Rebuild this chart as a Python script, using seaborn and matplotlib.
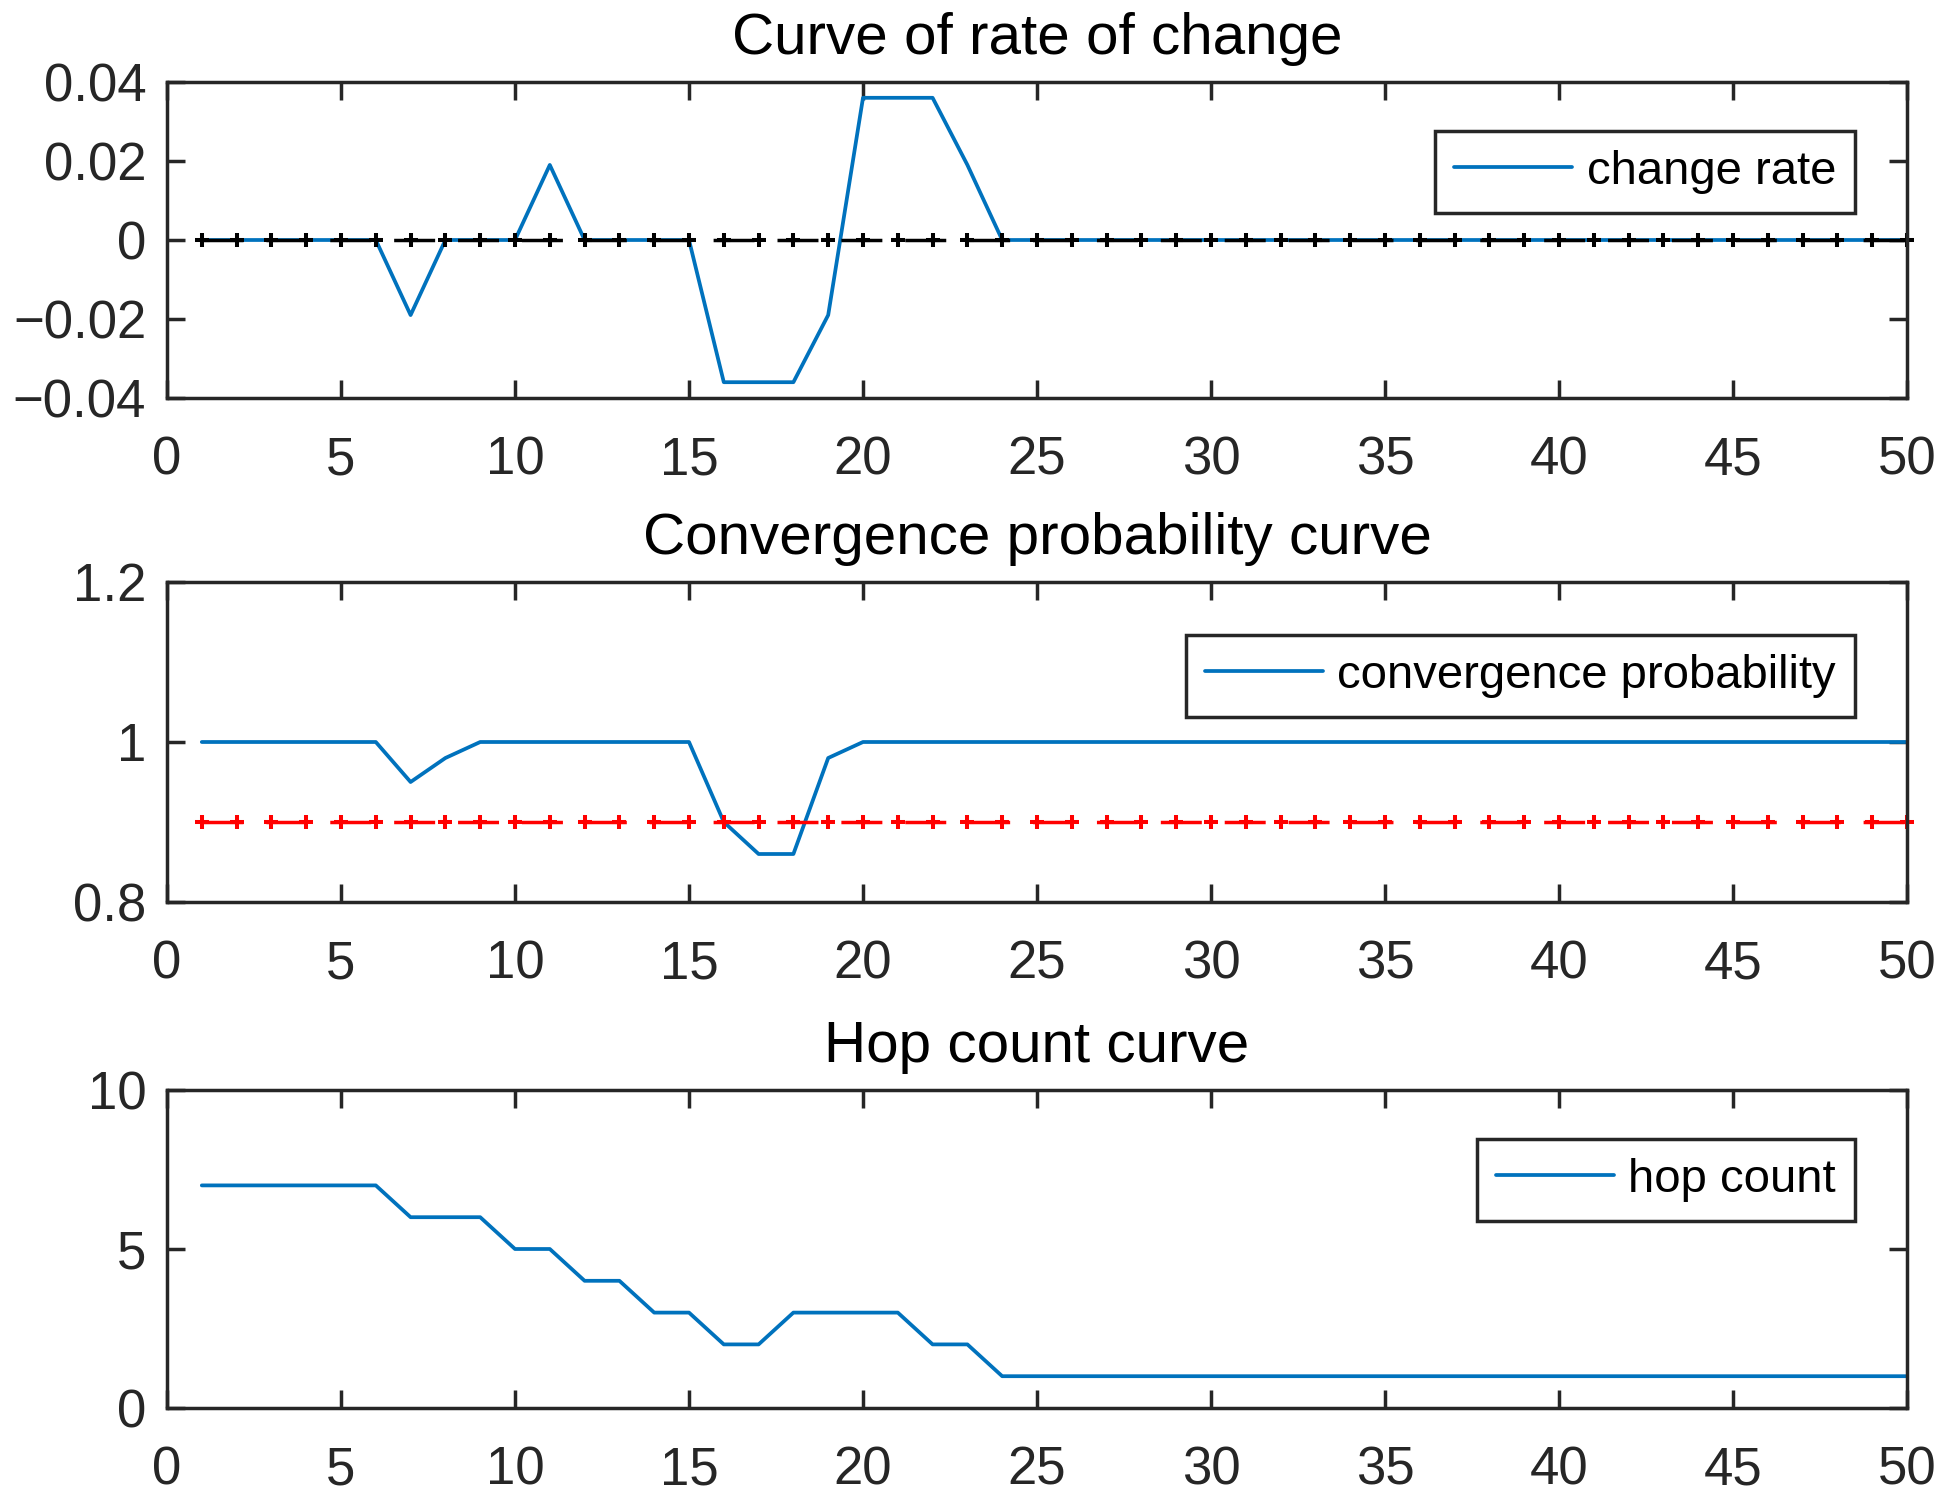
import numpy as np
import pandas as pd
import matplotlib
matplotlib.use("Agg")
import matplotlib.pyplot as plt
import seaborn as sns

# ---------------- data ----------------
iterations = list(range(1, 51))

change_rate = [0, 0, 0, 0, 0, 0, -0.019, 0, 0, 0,
               0.019, 0, 0, 0, 0, -0.036, -0.036, -0.036, -0.019, 0.036,
               0.036, 0.036, 0.019, 0] + [0] * 26

convergence_prob = [1, 1, 1, 1, 1, 1, 0.95, 0.98, 1, 1,
                    1, 1, 1, 1, 1, 0.90, 0.86, 0.86, 0.98, 1] + [1] * 30

hop_count = [7, 7, 7, 7, 7, 7, 6, 6, 6, 5,
             5, 4, 4, 3, 3, 2, 2, 3, 3, 3,
             3, 2, 2, 1] + [1] * 26

rate_reference = 0.0
prob_threshold = 0.9

titles = ["Curve of rate of change", "Convergence probability curve", "Hop count curve"]
legend_labels = ["change rate", "convergence probability", "hop count"]

x_ticks = list(range(0, 51, 5))
rate_yticks = [-0.04, -0.02, 0, 0.02, 0.04]
rate_yticklabels = ["\u22120.04", "\u22120.02", "0", "0.02", "0.04"]
prob_yticks = [0.8, 1.0, 1.2]
prob_yticklabels = ["0.8", "1", "1.2"]
hop_yticks = [0, 5, 10]
hop_yticklabels = ["0", "5", "10"]

# ---------------- style ----------------
sns.set_theme(style="white")
plt.rcParams["font.family"] = ["Liberation Sans", "DejaVu Sans"]
plt.rcParams["lines.scale_dashes"] = False
plt.rcParams["axes.unicode_minus"] = True

BLUE = "#0072BD"
AX_COL = "#262626"

W, H = 1942, 1492
fig = plt.figure(figsize=(W / 100, H / 100), dpi=100)
fig.patch.set_facecolor("white")

left_px, right_px = 167, 1907
axes_px = [(82, 398), (582, 902), (1090, 1408)]
legend_anchor_y = [0.845, 0.834, 0.846]

df = pd.DataFrame({"x": iterations, "rate": change_rate,
                   "prob": convergence_prob, "hop": hop_count})

series = ["rate", "prob", "hop"]
ylims = [(-0.04, 0.04), (0.8, 1.2), (0, 10)]
yticks = [rate_yticks, prob_yticks, hop_yticks]
yticklabels = [rate_yticklabels, prob_yticklabels, hop_yticklabels]

dash = (0, (29.5, 16.5))

for i, (top, bot) in enumerate(axes_px):
    ax = fig.add_axes([left_px / W, 1 - bot / H, (right_px - left_px) / W, (bot - top) / H])
    sns.lineplot(data=df, x="x", y=series[i], ax=ax, color=BLUE, lw=2.7,
                 label=legend_labels[i], legend=False)
    main_line = ax.get_lines()[-1]

    if i in (0, 1):
        ref_val = rate_reference if i == 0 else prob_threshold
        ref_col = "black" if i == 0 else "#FF0000"
        ref = pd.DataFrame({"x": iterations, "y": [ref_val] * len(iterations)})
        sns.lineplot(data=ref, x="x", y="y", ax=ax, color=ref_col, lw=2.5,
                     linestyle=dash, marker="+", markersize=9.5, mew=2.9,
                     mec=ref_col, clip_on=False, legend=False)

    ax.set_xlim(0, 50)
    ax.set_ylim(*ylims[i])
    ax.set_xticks(x_ticks)
    ax.set_xticklabels([str(t) for t in x_ticks])
    ax.set_yticks(yticks[i])
    ax.set_yticklabels(yticklabels[i])
    ax.set_xlabel("")
    ax.set_ylabel("")

    for s in ax.spines.values():
        s.set_visible(True)
        s.set_color(AX_COL)
        s.set_linewidth(2.5)
    ax.tick_params(axis="both", which="major", direction="in", length=13, width=2.5,
                   colors=AX_COL, labelsize=38, top=True, right=True,
                   bottom=True, left=True)
    ax.tick_params(axis="x", pad=27)
    ax.tick_params(axis="y", pad=15)
    for lab in ax.get_xticklabels() + ax.get_yticklabels():
        lab.set_color(AX_COL)

    ax.set_title(titles[i], fontsize=42, color="black", pad=20)

    leg = ax.legend(handles=[main_line], labels=[legend_labels[i]], loc="upper right",
                    bbox_to_anchor=(0.970, legend_anchor_y[i]), borderaxespad=0,
                    fontsize=34, frameon=True, fancybox=False, framealpha=1,
                    edgecolor=AX_COL, handlelength=2.5, handletextpad=0.3,
                    borderpad=0.4)
    leg.get_frame().set_linewidth(2.5)
    for t in leg.get_texts():
        t.set_color("black")

fig.savefig("out.png", dpi=100, facecolor="white")
